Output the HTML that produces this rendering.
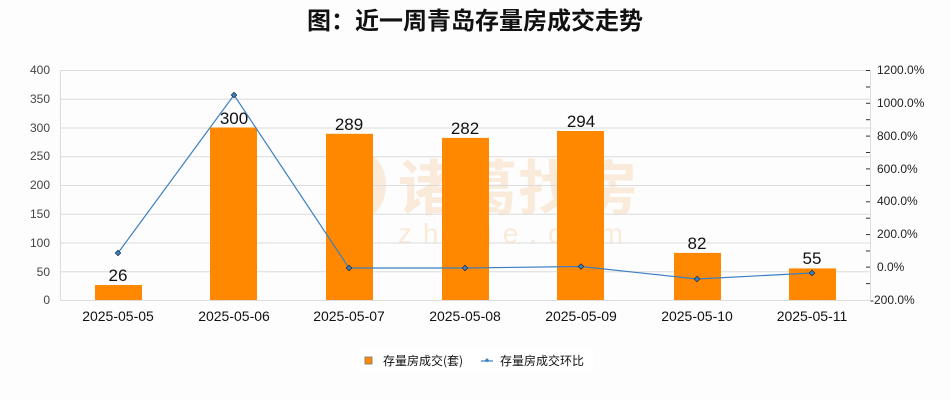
<!DOCTYPE html>
<html><head><meta charset="utf-8"><style>
body{margin:0;background:#fff;}
svg{display:block;font-family:"Liberation Sans","Noto Sans CJK SC",sans-serif;}
</style></head><body>
<svg width="950" height="400" viewBox="0 0 950 400" xmlns="http://www.w3.org/2000/svg">
<rect width="950" height="400" fill="#fdfdfd"/>
<text x="475" y="29" text-anchor="middle" font-size="24" font-weight="bold" fill="#111" font-family="'Noto Sans CJK SC',sans-serif">图：近一周青岛存量房成交走势</text>
<!-- watermark -->
<g opacity="0.2" fill="#f0a050">
<ellipse cx="360" cy="185" rx="26" ry="34"/>
<text x="398" y="210" font-size="60" font-weight="bold" font-family="'Noto Sans CJK SC',sans-serif" fill="#f0a050">诸葛找房</text>
<text x="398" y="243" font-size="28" letter-spacing="11" font-family="'Liberation Sans',sans-serif">zhuge.com</text>
</g>
<!-- grid -->
<g stroke="#dcdcdc" stroke-width="1">
<line x1="60" y1="70.5" x2="870" y2="70.5"/>
<line x1="60" y1="99.25" x2="870" y2="99.25"/>
<line x1="60" y1="128" x2="870" y2="128"/>
<line x1="60" y1="156.75" x2="870" y2="156.75"/>
<line x1="60" y1="185.5" x2="870" y2="185.5"/>
<line x1="60" y1="214.25" x2="870" y2="214.25"/>
<line x1="60" y1="243" x2="870" y2="243"/>
<line x1="60" y1="271.75" x2="870" y2="271.75"/>
<line x1="60" y1="300.5" x2="870" y2="300.5"/>
<line x1="60.5" y1="70" x2="60.5" y2="300"/>
<line x1="870.5" y1="70" x2="870.5" y2="300"/>
</g>
<g stroke="#333" stroke-width="1">
<line x1="866" y1="70.5" x2="870" y2="70.5"/><line x1="866" y1="87" x2="870" y2="87"/>
<line x1="866" y1="103.3" x2="870" y2="103.3"/><line x1="866" y1="119.7" x2="870" y2="119.7"/>
<line x1="866" y1="136.1" x2="870" y2="136.1"/><line x1="866" y1="152.5" x2="870" y2="152.5"/>
<line x1="866" y1="168.9" x2="870" y2="168.9"/><line x1="866" y1="185.4" x2="870" y2="185.4"/>
<line x1="866" y1="201.8" x2="870" y2="201.8"/><line x1="866" y1="218.2" x2="870" y2="218.2"/>
<line x1="866" y1="234.6" x2="870" y2="234.6"/><line x1="866" y1="251" x2="870" y2="251"/>
<line x1="866" y1="267.1" x2="870" y2="267.1"/><line x1="866" y1="283.6" x2="870" y2="283.6"/>
</g>
<!-- left labels -->
<g font-size="12" fill="#444" text-anchor="end">
<text x="50" y="74">400</text><text x="50" y="103">350</text><text x="50" y="132">300</text>
<text x="50" y="160">250</text><text x="50" y="189">200</text><text x="50" y="218">150</text>
<text x="50" y="247">100</text><text x="50" y="276">50</text><text x="50" y="304">0</text>
</g>
<g font-size="12" fill="#222">
<text x="877" y="74">1200.0%</text><text x="877" y="107">1000.0%</text><text x="877" y="140">800.0%</text>
<text x="877" y="173">600.0%</text><text x="877" y="205">400.0%</text><text x="877" y="238">200.0%</text>
<text x="877" y="271">0.0%</text><text x="870" y="304">-200.0%</text>
</g>
<!-- bars -->
<g fill="#ff8800">
<rect x="95" y="285" width="47" height="15"/>
<rect x="210" y="127.5" width="47" height="172.5"/>
<rect x="326" y="133.8" width="47" height="166.2"/>
<rect x="442" y="137.9" width="47" height="162.1"/>
<rect x="557" y="131" width="47" height="169"/>
<rect x="674" y="252.9" width="47" height="47.1"/>
<rect x="789" y="268.4" width="47" height="31.6"/>
</g>
<g font-size="17" fill="#111" text-anchor="middle">
<text x="118" y="281">26</text><text x="234" y="124">300</text><text x="349" y="130">289</text>
<text x="465" y="134">282</text><text x="581" y="127">294</text><text x="697" y="249">82</text><text x="812" y="264">55</text>
</g>
<!-- line -->
<polyline fill="none" stroke="#3a7fc1" stroke-width="1.2" points="118,253 234,95 349,268 465,268 581,266.5 697,279 812,273"/>
<g fill="#3a7fc1" stroke="#123" stroke-width="0.6">
<rect x="116" y="251" width="4" height="4" transform="rotate(45 118 253)"/>
<rect x="232" y="93" width="4" height="4" transform="rotate(45 234 95)"/>
<rect x="347" y="266" width="4" height="4" transform="rotate(45 349 268)"/>
<rect x="463" y="266" width="4" height="4" transform="rotate(45 465 268)"/>
<rect x="579" y="264.5" width="4" height="4" transform="rotate(45 581 266.5)"/>
<rect x="695" y="277" width="4" height="4" transform="rotate(45 697 279)"/>
<rect x="810" y="271" width="4" height="4" transform="rotate(45 812 273)"/>
</g>
<!-- x labels -->
<g font-size="14" fill="#111" text-anchor="middle">
<text x="118" y="321">2025-05-05</text><text x="234" y="321">2025-05-06</text><text x="349" y="321">2025-05-07</text>
<text x="465" y="321">2025-05-08</text><text x="581" y="321">2025-05-09</text><text x="697" y="321">2025-05-10</text><text x="812" y="321">2025-05-11</text>
</g>
<!-- legend -->
<rect x="358" y="349" width="235" height="22" fill="#fff"/>
<rect x="365" y="357" width="7" height="7" fill="#ff8800" stroke="#777" stroke-width="0.8"/>
<text x="383" y="365" font-size="12" fill="#111" font-family="'Noto Sans CJK SC',sans-serif">存量房成交(套)</text>
<line x1="481" y1="361" x2="493" y2="361" stroke="#3a7fc1" stroke-width="1.2"/>
<rect x="485" y="359" width="3" height="3" fill="#3a7fc1" transform="rotate(45 487 361)"/>
<text x="500" y="365" font-size="12" fill="#111" font-family="'Noto Sans CJK SC',sans-serif">存量房成交环比</text>
</svg>
</body></html>
